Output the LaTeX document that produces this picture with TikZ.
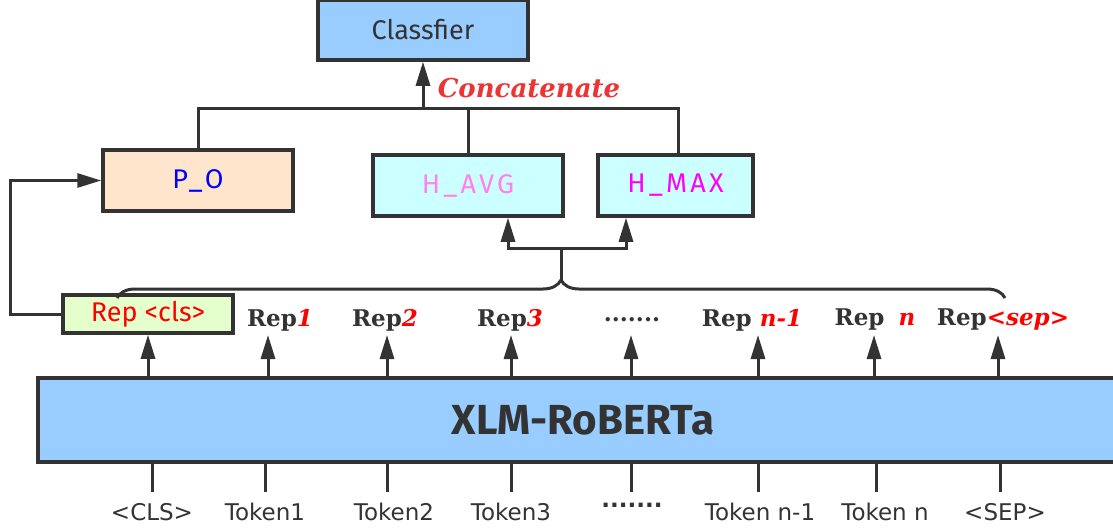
\documentclass[tikz,border=0pt]{standalone}
\usepackage{fontspec}
\setmainfont{DejaVu Serif}
\setsansfont{DejaVu Sans}
\newfontfamily\boxfont{Fira Sans}
\newfontfamily\boxfontwide[LetterSpace=12]{Fira Sans}
\usepackage{xcolor}
\usetikzlibrary{positioning,arrows.meta,decorations.pathreplacing}

\definecolor{boxblue}{HTML}{99CCFF}
\definecolor{peach}{HTML}{FFE5CC}
\definecolor{palecyan}{HTML}{CCFFFF}
\definecolor{palegreen}{HTML}{E5FFCC}
\definecolor{edgegray}{HTML}{333333}
\definecolor{avgpink}{HTML}{FF80EE}
\definecolor{maxmagenta}{HTML}{FF00FF}
\definecolor{concatred}{HTML}{EE3333}

\begin{document}
\begin{tikzpicture}[
  x=1pt, y=-1pt,
  >={Triangle[length=24pt,width=14pt]},
  box/.style={rectangle, draw=edgegray, line width=3.5pt, inner sep=0pt, font=\boxfont\fontsize{27}{31}\selectfont},
  widebox/.style={box, font=\boxfontwide\fontsize{27}{31}\selectfont},
  link/.style={draw=edgegray, line width=3pt},
  arr/.style={link, ->},
  replabel/.style={font=\bfseries\fontsize{23}{27}\selectfont, text=edgegray, inner sep=0pt},
  toklabel/.style={font=\sffamily\fontsize{23}{27}\selectfont, text=edgegray, anchor=north, inner sep=0pt},
]
\useasboundingbox (0,0) rectangle (1113,530);

% boxes
\node[box, fill=boxblue, minimum width=210pt, minimum height=60pt, text=edgegray] (cls) at (423,30) {Classfier};
\node[widebox, fill=peach, minimum width=190pt, minimum height=61pt, text=blue] (po) at (198,180.5) {P\_O};
\node[widebox, fill=palecyan, minimum width=190pt, minimum height=61pt, text=avgpink] (havg) at (468,185.5) {H\_AVG};
\node[widebox, fill=palecyan, minimum width=155pt, minimum height=61pt, text=maxmagenta] (hmax) at (675.5,185.5) {H\_MAX};
\node[box, fill=palegreen, minimum width=170pt, minimum height=38pt, text=red] (repcls) at (148,314) {Rep <cls>};
\node[box, fill=boxblue, minimum width=1090pt, minimum height=84pt, font=\boxfont\bfseries\fontsize{42}{46}\selectfont, text=edgegray] (xlm) at (583,420) {XLM-RoBERTa};

\node[font=\bfseries\itshape\fontsize{26}{30}\selectfont, text=concatred, inner sep=0pt] (concat) at (529,88) {Concatenate};

% representation labels
\node[replabel] (rep1) at (280,320) {Rep\textcolor{red}{\itshape 1}};
\node[replabel] (rep2) at (385,320) {Rep\textcolor{red}{\itshape 2}};
\node[replabel] (rep3) at (510,320) {Rep\textcolor{red}{\itshape 3}};
\node[replabel] (repdots) at (632,320) {.......};
\node[replabel] (repnm) at (752,320) {Rep \textcolor{red}{\itshape n-1}};
\node[replabel] (repn) at (875,320) {Rep\hspace{14pt}\textcolor{red}{\itshape n}};
\node[replabel] (repsep) at (1003,320) {Rep\textcolor{red}{\itshape <sep>}};

% token labels
\foreach \x/\t/\i in {152/{<CLS>}/0, 265/Token1/1, 394/Token2/2, 511/Token3/3, 632/{\bfseries.......}/4, 760/{Token n-1}/5, 885/{Token n}/6, 1005/{<SEP>}/7}
  \node[toklabel] (tok\i) at (\x,503) {\t};

% arrows up from the encoder
\foreach \x/\i in {155/0, 268/1, 387/2, 511/3, 631/4, 758/5, 874/6, 998/7}
  \coordinate (up\i) at (\x,335);
\draw[arr] (xlm.north -| repcls.south) -- (repcls.south);
\foreach \i in {1,...,7}
  \draw[arr] (xlm.north -| up\i) -- (up\i);

% token inputs
\foreach \x/\i in {152/0, 265/1, 387/2, 511/3, 631/4, 758/5, 876/6, 1000/7}
  \draw[link] (xlm.south -| \x,0) -- (\x,492);

% brace over the token representations
\coordinate (bl) at (117,298);
\coordinate (br) at (1005,298);
\draw[edgegray, line width=3pt, decorate, decoration={brace, amplitude=18pt}] (bl) -- (br);
\coordinate (tip) at (561,282);
\coordinate (split) at (561,248);
\draw[link] (tip) -- (split);
\draw[arr] (split) -| ([xshift=40pt]havg.south);
\draw[arr] (split) -| ([xshift=-49.5pt]hmax.south);

% cls path to pooled output
\draw[arr] (repcls.west) -- ++(-51,0) |- (po.west);

% concatenation into classifier
\coordinate (join) at (423,108);
\draw[link] (po.north) |- (join);
\draw[link] ([xshift=2.5pt]hmax.north) |- (join);
\draw[link] (havg.north) -- (havg.north |- join);
\draw[arr] (join) -- (cls.south);
\end{tikzpicture}
\end{document}
